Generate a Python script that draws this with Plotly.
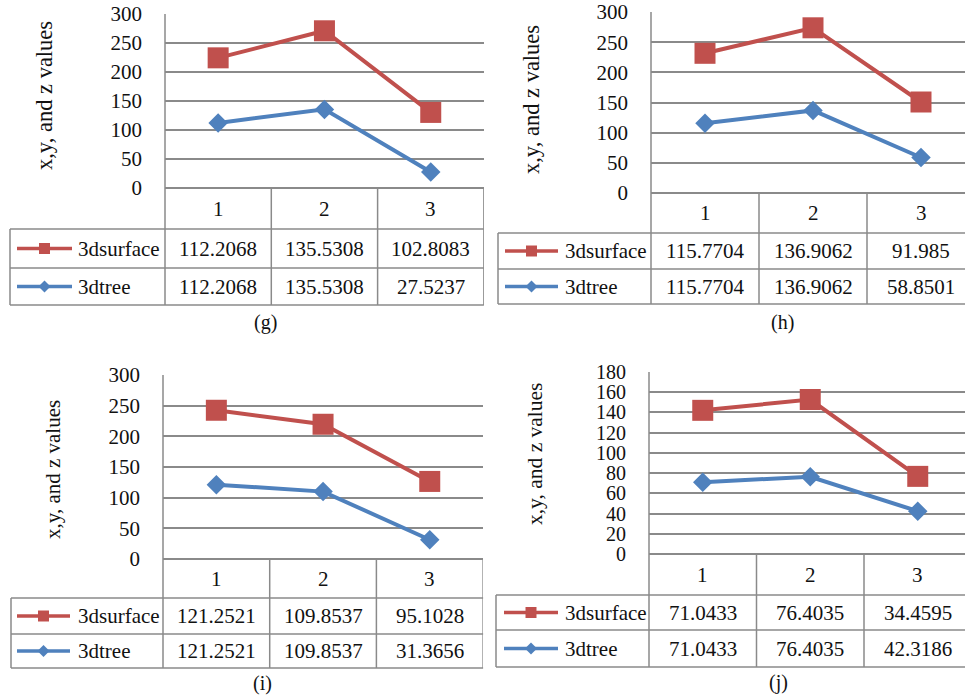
import numpy as np
import plotly.graph_objects as go

W, H = 965, 698

# ---- data -------------------------------------------------------------
categories = ["1", "2", "3"]
series_names = ["3dsurface", "3dtree"]

g_surface = [112.2068, 135.5308, 102.8083]
g_tree = [112.2068, 135.5308, 27.5237]

h_surface = [115.7704, 136.9062, 91.985]
h_tree = [115.7704, 136.9062, 58.8501]

i_surface = [121.2521, 109.8537, 95.1028]
i_tree = [121.2521, 109.8537, 31.3656]

j_surface = [71.0433, 76.4035, 34.4595]
j_tree = [71.0433, 76.4035, 42.3186]

y_ticks_300 = [0, 50, 100, 150, 200, 250, 300]
y_ticks_180 = [0, 20, 40, 60, 80, 100, 120, 140, 160, 180]

captions = ["(g)", "(h)", "(i)", "(j)"]
axis_title = "x,y, and z values"

# ---- styling ----------------------------------------------------------
RED = "#C0504D"
BLUE = "#4F81BD"
GRID = "#8a8a8a"
FONT = "'Liberation Serif', 'Times New Roman', Times, 'DejaVu Serif', serif"
TXT = "#111111"


def px(x):
    return x / W


def py(y):
    return 1 - y / H


# pixel layout of each chart: plot box, table rows, legend key, title, caption
panels = [
    dict(surface=g_surface, tree=g_tree, ticks=y_ticks_300, cap=captions[0],
         left=165, colw=106.3, top=14, zero=188, hdr=229, row=268, bottom=305,
         tleft=10, title=(45, 96), title_size=22.5, tick_size=21,
         capxy=(265, 322), leg=(17, 72), legtext=76),
    dict(surface=h_surface, tree=h_tree, ticks=y_ticks_300, cap=captions[1],
         left=651, colw=108.0, top=12, zero=193, hdr=233, row=269, bottom=304,
         tleft=498, title=(532, 100), title_size=22.5, tick_size=21,
         capxy=(782, 322), leg=(505, 558), legtext=563),
    dict(surface=i_surface, tree=i_tree, ticks=y_ticks_300, cap=captions[2],
         left=163, colw=106.7, top=375, zero=559, hdr=598, row=634, bottom=668,
         tleft=11, title=(53, 470), title_size=21, tick_size=21,
         capxy=(262, 683), leg=(17, 70), legtext=76),
    dict(surface=j_surface, tree=j_tree, ticks=y_ticks_180, cap=captions[3],
         left=649, colw=107.5, top=372, zero=554, hdr=595, row=630, bottom=667,
         tleft=496, title=(535, 454), title_size=21.5, tick_size=20,
         capxy=(778, 682), leg=(504, 558), legtext=563),
]

fig = go.Figure()
shapes = []
annotations = []
layout_axes = {}

for k, p in enumerate(panels):
    n = k + 1
    xname = "x" if n == 1 else f"x{n}"
    yname = "y" if n == 1 else f"y{n}"
    xkey = "xaxis" if n == 1 else f"xaxis{n}"
    ykey = "yaxis" if n == 1 else f"yaxis{n}"

    right_full = p["left"] + 3 * p["colw"]
    right = min(right_full, W)
    xmax = 0.5 + (right - p["left"]) / p["colw"]
    ymax = p["ticks"][-1]

    layout_axes[xkey] = dict(
        domain=[px(p["left"]), px(right)], range=[0.5, xmax], anchor=yname,
        showgrid=False, zeroline=False, showticklabels=False, ticks="",
        showline=False, fixedrange=True, automargin=False,
    )
    layout_axes[ykey] = dict(
        domain=[py(p["zero"]), py(p["top"])], range=[0, ymax], anchor=xname,
        tickvals=p["ticks"], showgrid=True, gridcolor=GRID, gridwidth=1.5,
        zeroline=True, zerolinecolor=GRID, zerolinewidth=1.5,
        showline=False, ticks="", ticklabelstandoff=22, automargin=False,
        tickfont=dict(family=FONT, size=p["tick_size"], color=TXT),
        fixedrange=True,
    )

    xs = np.arange(1, 4)
    tree = np.array(p["tree"])
    surface_stacked = tree + np.array(p["surface"])  # stacked line chart

    fig.add_trace(go.Scatter(
        x=xs, y=tree, mode="lines+markers", name=series_names[1],
        line=dict(color=BLUE, width=4),
        marker=dict(symbol="diamond", size=15, color=BLUE),
        xaxis=xname, yaxis=yname, showlegend=False, cliponaxis=False,
    ))
    fig.add_trace(go.Scatter(
        x=xs, y=surface_stacked, mode="lines+markers", name=series_names[0],
        line=dict(color=RED, width=4),
        marker=dict(symbol="square", size=21, color=RED),
        xaxis=xname, yaxis=yname, showlegend=False, cliponaxis=False,
    ))

    line = dict(color=GRID, width=1.5)
    # left border of the plot, running down through the table
    shapes.append(dict(type="line", xref="paper", yref="paper",
                       x0=px(p["left"]), x1=px(p["left"]),
                       y0=py(p["top"]), y1=py(p["bottom"]), line=line))
    # column dividers in the table part
    for xv in (1.5, 2.5, 3.5):
        if xv <= xmax:
            shapes.append(dict(type="line", xref=xname, yref="paper",
                               x0=xv, x1=xv, y0=py(p["zero"]), y1=py(p["bottom"]),
                               line=line))
    # horizontal rules of the data table
    for yy in (p["hdr"], p["row"], p["bottom"]):
        shapes.append(dict(type="line", xref="paper", yref="paper",
                           x0=px(p["tleft"]), x1=px(right),
                           y0=py(yy), y1=py(yy), line=line))
    # left border of the legend column
    shapes.append(dict(type="line", xref="paper", yref="paper",
                       x0=px(p["tleft"]), x1=px(p["tleft"]),
                       y0=py(p["hdr"]), y1=py(p["bottom"]), line=line))

    # category labels in the header row
    hdr_mid = (p["zero"] + p["hdr"]) / 2
    for c, lab in zip(xs, categories):
        annotations.append(dict(x=c, y=py(hdr_mid), xref=xname, yref="paper",
                                text=lab, showarrow=False, xanchor="center",
                                yanchor="middle",
                                font=dict(family=FONT, size=21, color=TXT)))

    # table rows: 3dsurface then 3dtree
    rows = [(p["surface"], (p["hdr"] + p["row"]) / 2, RED, "square", series_names[0]),
            (p["tree"], (p["row"] + p["bottom"]) / 2, BLUE, "diamond", series_names[1])]
    for vals, ymid, col, sym, name in rows:
        for c, v in zip(xs, vals):
            annotations.append(dict(x=c, y=py(ymid), xref=xname, yref="paper",
                                    text=str(v), showarrow=False,
                                    xanchor="center", yanchor="middle",
                                    font=dict(family=FONT, size=21, color=TXT)))
        # legend key: line with a marker in the middle
        x0, x1 = p["leg"]
        shapes.append(dict(type="line", xref="paper", yref="paper",
                           x0=px(x0), x1=px(x1), y0=py(ymid), y1=py(ymid),
                           line=dict(color=col, width=3.5)))
        cx = (x0 + x1) / 2
        if sym == "square":
            s = 5.5
            shapes.append(dict(type="rect", xref="paper", yref="paper",
                               x0=px(cx - s), x1=px(cx + s),
                               y0=py(ymid - s), y1=py(ymid + s),
                               fillcolor=col, line=dict(width=0)))
        else:
            s = 6
            path = (f"M {px(cx - s)},{py(ymid)} L {px(cx)},{py(ymid - s)} "
                    f"L {px(cx + s)},{py(ymid)} L {px(cx)},{py(ymid + s)} Z")
            shapes.append(dict(type="path", xref="paper", yref="paper",
                               path=path, fillcolor=col, line=dict(width=0)))
        annotations.append(dict(x=px(p["legtext"]), y=py(ymid), xref="paper",
                                yref="paper", text=name, showarrow=False,
                                xanchor="left", yanchor="middle",
                                font=dict(family=FONT, size=21, color=TXT)))

    # vertical axis title
    tx, ty = p["title"]
    annotations.append(dict(x=px(tx), y=py(ty), xref="paper", yref="paper",
                            text=axis_title, textangle=-90, showarrow=False,
                            xanchor="center", yanchor="middle",
                            font=dict(family=FONT, size=p["title_size"], color=TXT)))
    # caption under the chart
    cx_, cy_ = p["capxy"]
    annotations.append(dict(x=px(cx_), y=py(cy_), xref="paper", yref="paper",
                            text=p["cap"], showarrow=False,
                            xanchor="center", yanchor="middle",
                            font=dict(family=FONT, size=20, color=TXT)))

fig.update_layout(
    width=W, height=H, autosize=False,
    margin=dict(l=0, r=0, t=0, b=0, pad=0),
    paper_bgcolor="white", plot_bgcolor="white",
    font=dict(family=FONT, size=21, color=TXT),
    showlegend=False, shapes=shapes, annotations=annotations,
    **layout_axes,
)

fig.write_html("out.html")
